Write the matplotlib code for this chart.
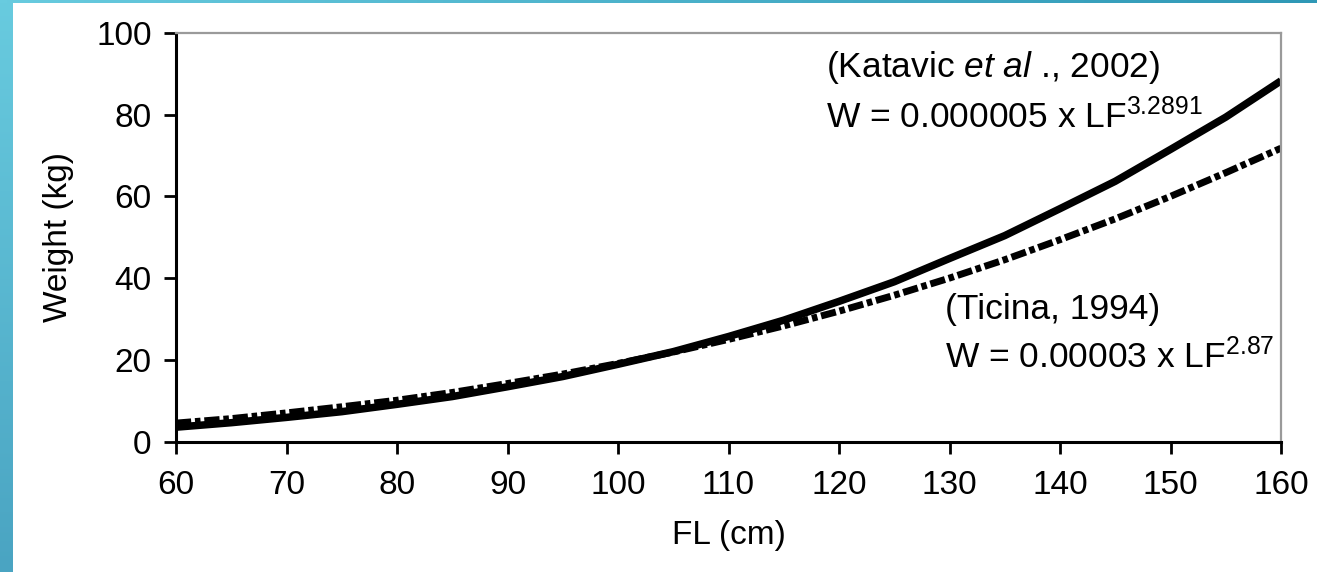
import numpy as np
import matplotlib
matplotlib.use("Agg")
import matplotlib.pyplot as plt
from matplotlib.colors import LinearSegmentedColormap

plt.rcParams['font.family'] = ['Liberation Sans', 'DejaVu Sans']
plt.rcParams['mathtext.fontset'] = 'custom'
plt.rcParams['mathtext.rm'] = 'Liberation Sans'
plt.rcParams['mathtext.it'] = 'Liberation Sans:italic'
plt.rcParams['mathtext.bf'] = 'Liberation Sans:bold'

# Data
fl_cm = [60, 65, 70, 75, 80, 85, 90, 95, 100, 105, 110, 115, 120, 125, 130,
         135, 140, 145, 150, 155, 160]
katavic_kg = [3.5, 4.6, 5.9, 7.3, 9.1, 11.0, 13.4, 15.9, 18.9, 22.0, 25.7,
              29.7, 34.3, 39.1, 44.8, 50.4, 57.0, 63.7, 71.5, 79.4, 88.3]
ticina_kg = [4.5, 5.6, 7.0, 8.5, 10.1, 12.0, 14.2, 16.5, 19.1, 21.9, 25.0,
             28.3, 31.9, 35.8, 40.0, 44.5, 49.4, 54.5, 60.0, 65.8, 71.8]
x_ticks = [60, 70, 80, 90, 100, 110, 120, 130, 140, 150, 160]
y_ticks = [0, 20, 40, 60, 80, 100]
x_label = "FL (cm)"
y_label = "Weight (kg)"
katavic_ref = r"(Katavic $\mathit{et\ al}$ ., 2002)"
katavic_eq = r"W = 0.000005 x LF$^{3.2891}$"
ticina_ref = "(Ticina, 1994)"
ticina_eq = r"W = 0.00003 x LF$^{2.87}$"

W, H = 1317, 572
fig = plt.figure(figsize=(W / 100, H / 100), dpi=100)
fig.patch.set_facecolor('white')

# decorative blue strips (slide frame)
axl = fig.add_axes([0, 0, 13 / W, 1])
grad_v = np.linspace(0, 1, 256).reshape(-1, 1)
cm_v = LinearSegmentedColormap.from_list('v', ['#68cbdf', '#4aa4c2'])
axl.imshow(grad_v, aspect='auto', cmap=cm_v, extent=[0, 1, 0, 1], origin='upper')
axl.axis('off')
axt = fig.add_axes([0, 1 - 3 / H, 1, 3 / H])
grad_h = np.linspace(0, 1, 256).reshape(1, -1)
cm_h = LinearSegmentedColormap.from_list('h', ['#68cbdf', '#2f98b6'])
axt.imshow(grad_h, aspect='auto', cmap=cm_h, extent=[0, 1, 0, 1])
axt.axis('off')

ax = fig.add_axes([176 / W, 1 - 441.5 / H, (1281 - 176) / W, (441.5 - 33) / H])

ax.plot(fl_cm, katavic_kg, color='black', lw=5.4, solid_capstyle='butt',
        solid_joinstyle='round')
ax.plot(fl_cm, ticina_kg, color='black', lw=5.0, dashes=(2.2, 0.55, 0.8, 0.55),
        dash_capstyle='butt')

ax.set_xlim(60, 160)
ax.set_ylim(0, 100)
ax.set_xticks(x_ticks)
ax.set_yticks(y_ticks)

for s in ['left', 'bottom']:
    ax.spines[s].set_linewidth(2.2)
    ax.spines[s].set_color('black')
for s in ['top', 'right']:
    ax.spines[s].set_linewidth(1.6)
    ax.spines[s].set_color('#9a9a9a')

ax.tick_params(axis='both', direction='out', length=8.5, width=2.0,
               labelsize=24, colors='black')
ax.tick_params(axis='x', pad=12)
ax.tick_params(axis='y', pad=9)

ax.set_xlabel(x_label, fontsize=24, labelpad=14)
ax.set_ylabel(y_label, fontsize=24, labelpad=16)

fs = 25.5
ax.text(118.8, 91.6, katavic_ref, fontsize=fs, ha='left', va='center')
ax.text(118.8, 79.6, katavic_eq, fontsize=fs, ha='left', va='center')
ax.text(129.6, 32.2, ticina_ref, fontsize=fs, ha='left', va='center')
ax.text(129.6, 20.9, ticina_eq, fontsize=fs, ha='left', va='center')

fig.savefig('out.png', dpi=100)
